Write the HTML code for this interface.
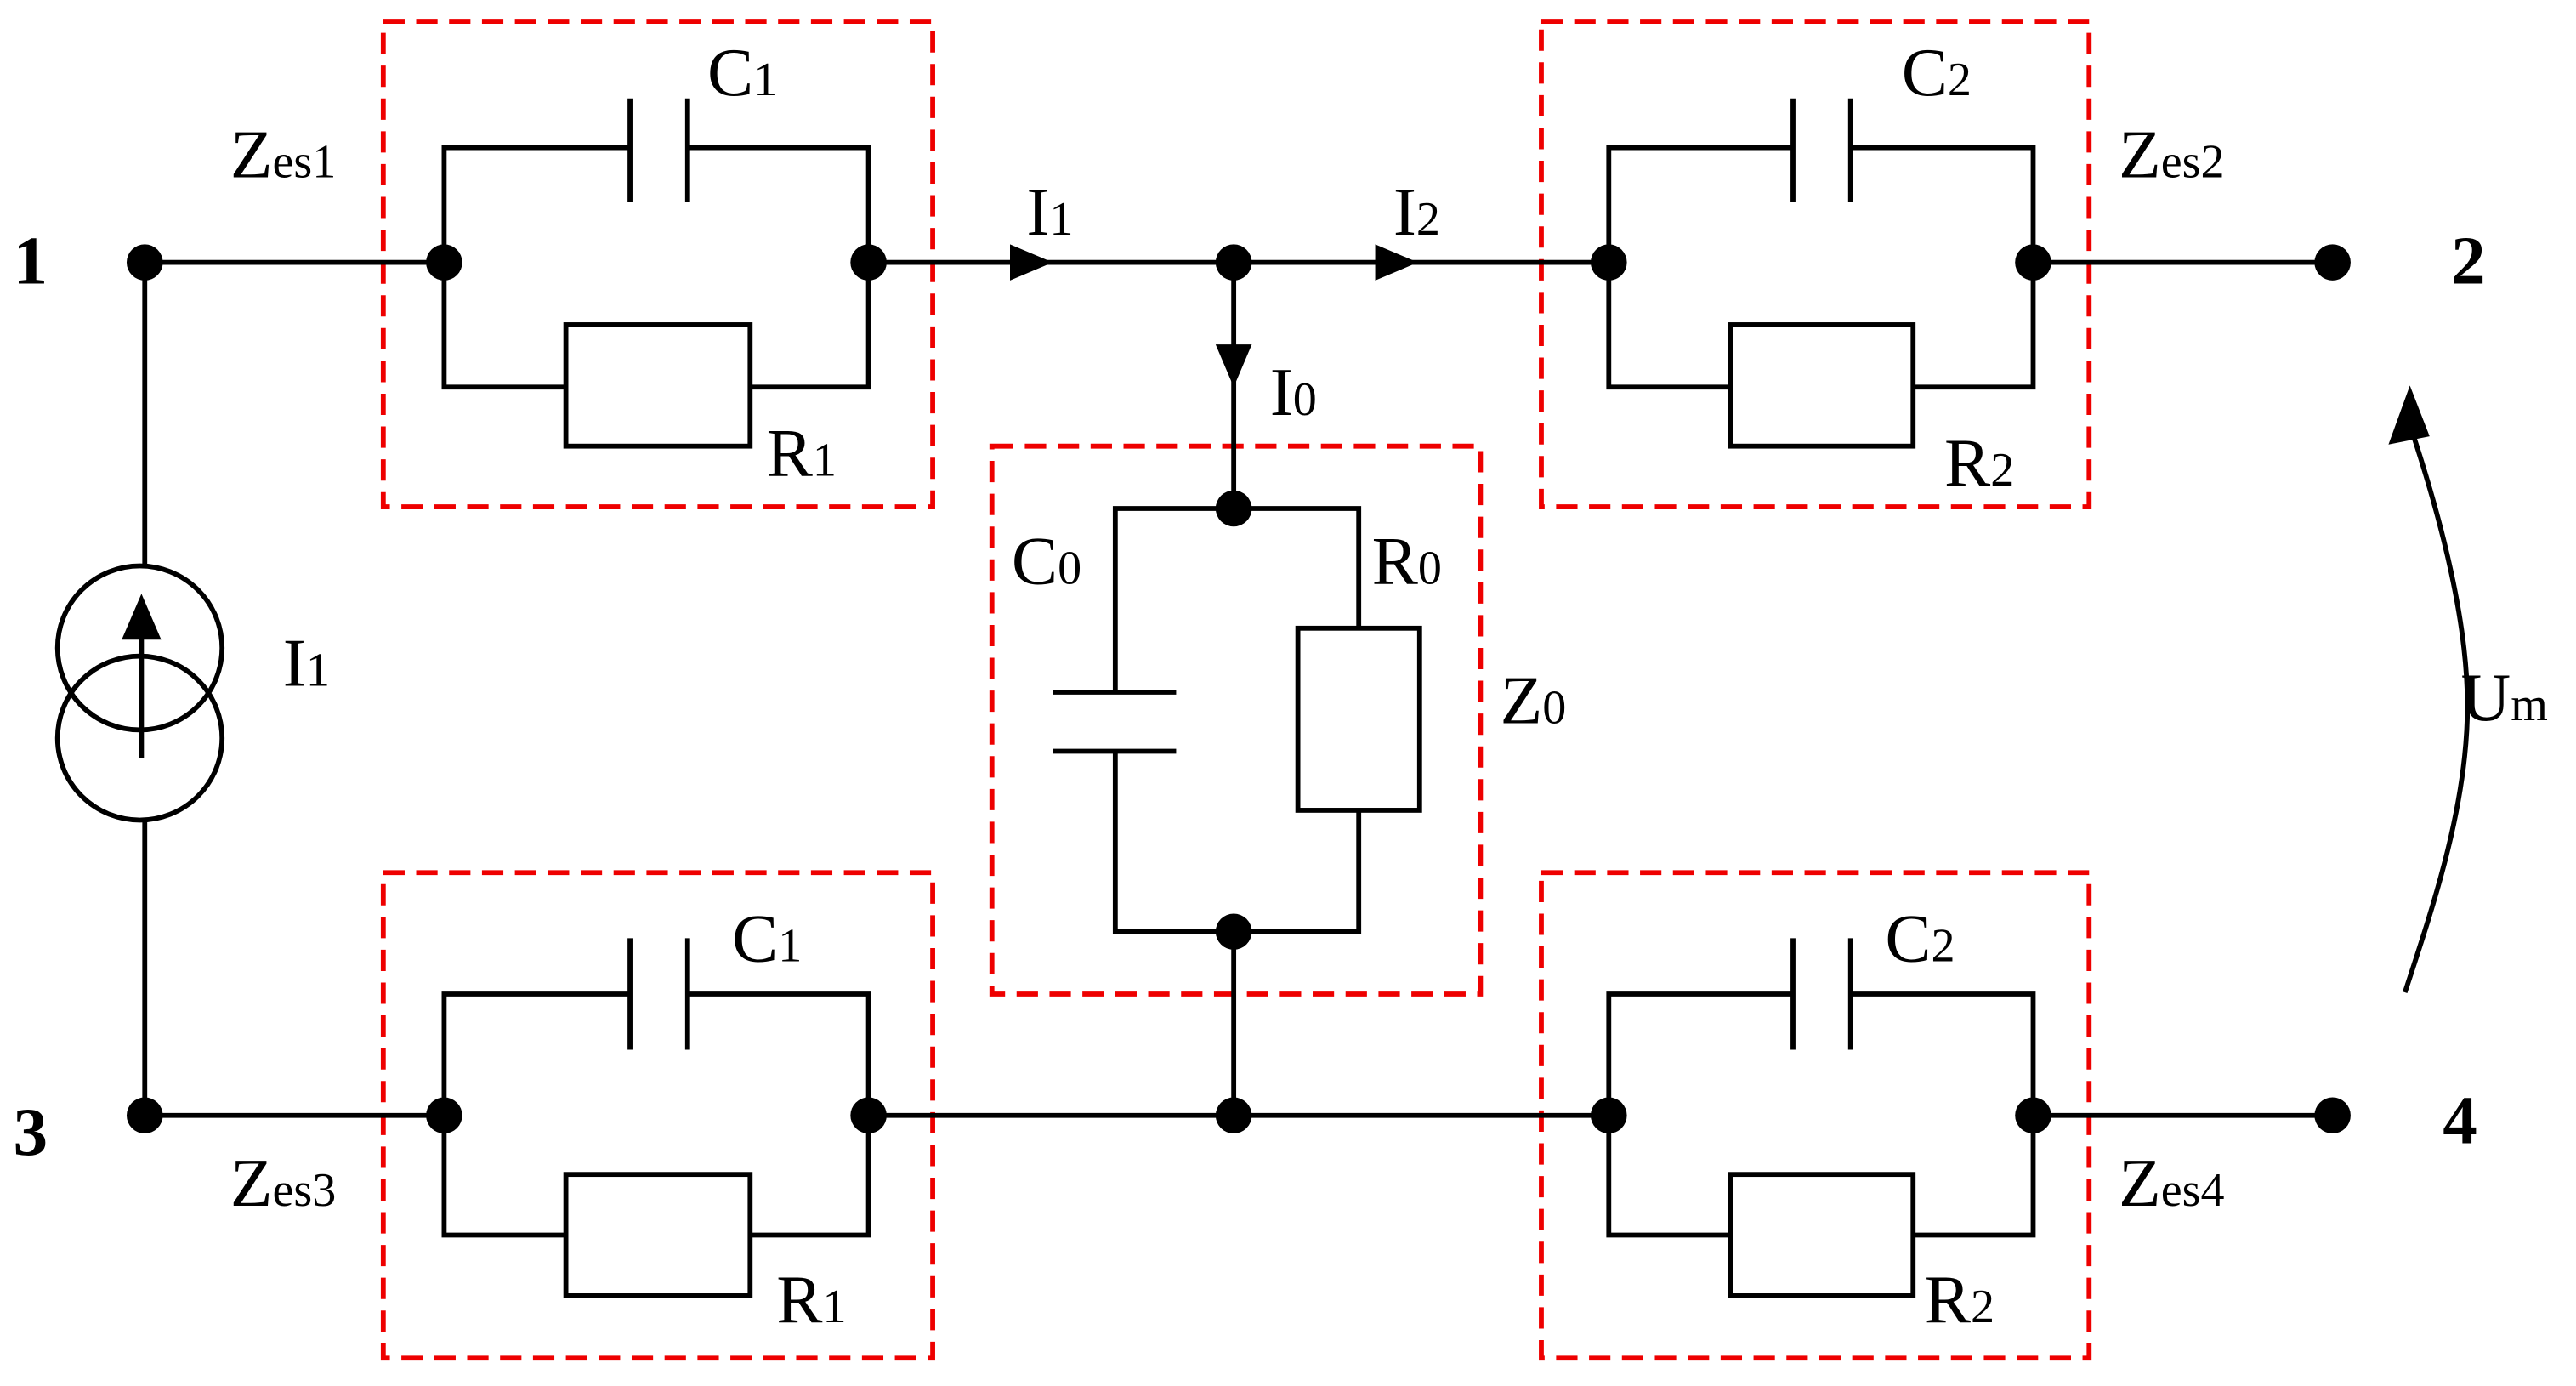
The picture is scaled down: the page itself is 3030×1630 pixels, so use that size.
<!DOCTYPE html>
<html><head><meta charset="utf-8"><style>html,body{margin:0;padding:0;background:#fff}svg{display:block}</style></head>
<body>
<svg width="3030" height="1630" viewBox="0 0 1566 845" preserveAspectRatio="none" xmlns="http://www.w3.org/2000/svg" font-family="Liberation Serif, serif" font-size="42">
<g fill="none" stroke="#e00" stroke-width="3" stroke-dasharray="13 7">
<rect x="233" y="13" width="334" height="296"/>
<rect x="937" y="13" width="333" height="296"/>
<rect x="233" y="532" width="334" height="296"/>
<rect x="937" y="532" width="333" height="296"/>
<rect x="603" y="272" width="297" height="334"/>
</g>
<g fill="none" stroke="#000" stroke-width="3">
<path d="M88 160V345M88 500V680"/>
<circle cx="85" cy="395" r="50"/><circle cx="85" cy="450" r="50"/>
<path d="M86 462V385"/>
<path d="M88 160H270M528 160H978M1236 160H1418M88 680H270M528 680H978M1236 680H1418"/>
<path d="M750 160V310M750 568V680"/>
<path d="M270 160V90H383M418 90H528V160M383 60V123M418 60V123M270 160V236H344M456 236H528V160"/>
<rect x="344" y="198" width="112" height="74"/>
<path d="M978 160V90H1090M1125 90H1236V160M1090 60V123M1125 60V123M978 160V236H1052M1163 236H1236V160"/>
<rect x="1052" y="198" width="111" height="74"/>
<path d="M270 680V606H383M418 606H528V680M383 572V640M418 572V640M270 680V753H344M456 753H528V680"/>
<rect x="344" y="716" width="112" height="74"/>
<path d="M978 680V606H1090M1125 606H1236V680M1090 572V640M1125 572V640M978 680V753H1052M1163 753H1236V680"/>
<rect x="1052" y="716" width="111" height="74"/>
<path d="M750 310H678V422M640 422H715M640 458H715M678 458V568H826V494M750 310H826V383"/>
<rect x="789" y="383" width="74" height="111"/>
<path d="M1462 605C1480 550 1500 490 1500 430C1500 380 1485 320 1466 262"/>
</g>
<g fill="#000">
<circle cx="88" cy="160" r="11"/><circle cx="88" cy="680" r="11"/>
<circle cx="270" cy="160" r="11"/><circle cx="528" cy="160" r="11"/>
<circle cx="978" cy="160" r="11"/><circle cx="1236" cy="160" r="11"/>
<circle cx="270" cy="680" r="11"/><circle cx="528" cy="680" r="11"/>
<circle cx="978" cy="680" r="11"/><circle cx="1236" cy="680" r="11"/>
<circle cx="750" cy="160" r="11"/><circle cx="750" cy="310" r="11"/>
<circle cx="750" cy="568" r="11"/><circle cx="750" cy="680" r="11"/>
<circle cx="1418" cy="160" r="11"/><circle cx="1418" cy="680" r="11"/>
<path d="M86 362L74 390H98Z"/>
<path d="M640 160L614 149V171Z"/>
<path d="M862 160L836 149V171Z"/>
<path d="M750 236L739 210H761Z"/>
<path d="M1465 235L1452 271L1477 266Z"/>
</g>
<g fill="#000">
<text x="8" y="173" font-weight="bold">1</text>
<text x="8" y="704" font-weight="bold">3</text>
<text x="1490" y="173" font-weight="bold">2</text>
<text x="1485" y="697" font-weight="bold">4</text>
<text x="172" y="418">I<tspan font-size="29">1</tspan></text>
<text x="140" y="108">Z<tspan font-size="29">es1</tspan></text>
<text x="430" y="58">C<tspan font-size="29">1</tspan></text>
<text x="466" y="290">R<tspan font-size="29">1</tspan></text>
<text x="624" y="143">I<tspan font-size="29">1</tspan></text>
<text x="847" y="143">I<tspan font-size="29">2</tspan></text>
<text x="772" y="253">I<tspan font-size="29">0</tspan></text>
<text x="1156" y="58">C<tspan font-size="29">2</tspan></text>
<text x="1288" y="108">Z<tspan font-size="29">es2</tspan></text>
<text x="1182" y="296">R<tspan font-size="29">2</tspan></text>
<text x="615" y="356">C<tspan font-size="29">0</tspan></text>
<text x="834" y="356">R<tspan font-size="29">0</tspan></text>
<text x="912" y="441">Z<tspan font-size="29">0</tspan></text>
<text x="445" y="586">C<tspan font-size="29">1</tspan></text>
<text x="472" y="806">R<tspan font-size="29">1</tspan></text>
<text x="140" y="735">Z<tspan font-size="29">es3</tspan></text>
<text x="1146" y="586">C<tspan font-size="29">2</tspan></text>
<text x="1170" y="806">R<tspan font-size="29">2</tspan></text>
<text x="1288" y="735">Z<tspan font-size="29">es4</tspan></text>
<text x="1496" y="439">U<tspan font-size="29">m</tspan></text>
</g>
</svg>
</body></html>
